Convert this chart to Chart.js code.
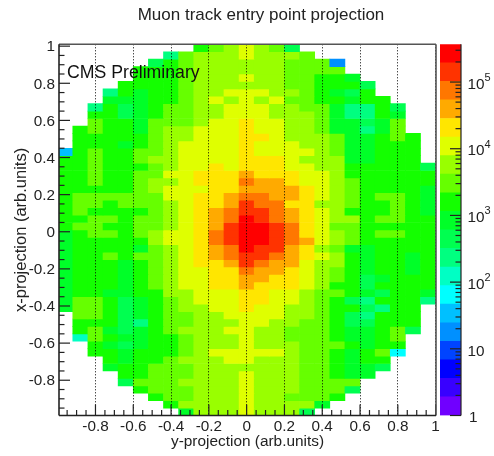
<!DOCTYPE html>
<html>
<head>
<meta charset="utf-8">
<title>Muon track entry point projection</title>
<script src="https://cdn.jsdelivr.net/npm/chart.js@4"></script>
<style>
html, body { margin: 0; padding: 0; background: #fff; }
#wrap { position: relative; width: 494px; height: 456px; }
canvas { position: absolute; top: 0; }
#hist { left: 0; }
#zbar { left: 436px; }
</style>
</head>
<body>
<div id="wrap">
	<canvas id="hist" width="494" height="456"></canvas>
	<canvas id="zbar" width="58" height="456"></canvas>
</div>
<script>
var _ = null;

// bin centres along y-projection
var xBins = [-0.96, -0.88, -0.8, -0.72, -0.64, -0.56, -0.48, -0.4, -0.32, -0.24, -0.16, -0.08, 0, 0.08, 0.16, 0.24, 0.32, 0.4, 0.48, 0.56, 0.64, 0.72, 0.8, 0.88, 0.96];

// top edge of each row along x-projection, row height is yBinHeight
var yBinTops = [1.01, 0.97, 0.93, 0.89, 0.85, 0.81, 0.77, 0.73, 0.69, 0.65, 0.61, 0.57, 0.53, 0.49, 0.45, 0.41, 0.37, 0.33, 0.29, 0.25, 0.21, 0.17, 0.13, 0.09, 0.05, 0.01, -0.03, -0.07, -0.11, -0.15, -0.19, -0.23, -0.27, -0.31, -0.35, -0.39, -0.43, -0.47, -0.51, -0.55, -0.59, -0.63, -0.67, -0.71, -0.75, -0.79, -0.83, -0.87, -0.91, -0.95];
var yBinHeight = 0.04;

// entries per cell, one line per row
var counts = [
	[_,_,_,_,_,_,_,_,_,1600,3000,5700,11000,5700,3000,444,_,_,_,_,_,_,_,_,_],
	[_,_,_,_,_,_,_,233,3000,5700,5700,5700,11000,5700,5700,5700,3000,_,_,_,_,_,_,_,_],
	[_,_,_,_,_,_,444,1600,3000,5700,5700,5700,5700,5700,5700,3000,3000,3000,18,_,_,_,_,_,_],
	[_,_,_,_,_,1600,1600,1600,3000,5700,5700,5700,5700,5700,5700,3000,3000,3000,3000,_,_,_,_,_,_],
	[_,_,_,_,_,1600,1600,1600,3000,5700,5700,5700,11000,5700,5700,3000,3000,1600,1600,840,_,_,_,_,_],
	[_,_,_,_,1600,1600,1600,1600,3000,5700,5700,5700,5700,5700,5700,3000,3000,1600,1600,1600,444,_,_,_,_],
	[_,_,_,233,1600,840,1600,1600,3000,5700,5700,11000,11000,11000,5700,5700,3000,1600,840,444,1600,_,_,_,_],
	[_,_,_,840,840,840,1600,1600,3000,5700,11000,5700,11000,5700,11000,3000,3000,1600,1600,840,1600,1600,_,_,_],
	[_,_,233,1600,444,840,1600,3000,3000,5700,5700,11000,11000,11000,5700,5700,3000,3000,840,233,233,1600,444,_,_],
	[_,_,1600,1600,444,840,1600,3000,3000,5700,5700,11000,11000,11000,5700,5700,5700,3000,840,233,233,1600,840,_,_],
	[_,_,3000,1600,1600,840,3000,3000,3000,5700,11000,11000,21000,11000,11000,5700,5700,3000,840,840,444,840,3000,_,_],
	[_,1600,3000,1600,1600,840,3000,5700,5700,11000,11000,11000,21000,11000,11000,5700,5700,3000,840,840,233,840,3000,_,_],
	[_,1600,1600,1600,1600,1600,3000,5700,5700,11000,11000,11000,21000,21000,11000,5700,5700,5700,3000,840,840,1600,3000,1600,_],
	[_,1600,1600,1600,840,1600,3000,5700,11000,11000,11000,11000,21000,11000,11000,11000,5700,5700,3000,840,840,1600,1600,1600,_],
	[34,1600,3000,1600,1600,3000,3000,5700,11000,11000,11000,11000,21000,11000,11000,11000,11000,5700,3000,840,840,1600,1600,1600,_],
	[1600,1600,3000,1600,1600,3000,5700,5700,11000,11000,11000,11000,21000,21000,21000,11000,5700,5700,5700,840,840,1600,1600,1600,_],
	[1600,1600,3000,1600,1600,1600,3000,5700,11000,11000,21000,11000,21000,21000,21000,11000,11000,5700,5700,1600,1600,1600,1600,1600,444],
	[1600,1600,3000,1600,1600,3000,3000,11000,11000,21000,21000,21000,40000,21000,21000,21000,11000,11000,5700,1600,1600,1600,1600,1600,1600],
	[1600,1600,3000,1600,1600,3000,5700,5700,11000,21000,21000,21000,75000,40000,40000,21000,11000,11000,5700,3000,1600,1600,1600,1600,1600],
	[1600,1600,1600,1600,1600,3000,5700,11000,11000,11000,21000,21000,40000,40000,40000,40000,21000,11000,5700,3000,1600,1600,1600,1600,840],
	[1600,3000,3000,3000,3000,3000,3000,11000,11000,21000,21000,40000,75000,75000,40000,40000,21000,11000,5700,3000,1600,3000,3000,1600,840],
	[1600,3000,3000,1600,3000,3000,3000,5700,11000,21000,21000,40000,140000,75000,75000,21000,21000,5700,5700,3000,1600,1600,3000,1600,840],
	[1600,3000,1600,1600,1600,1600,3000,5700,11000,21000,40000,75000,140000,140000,75000,40000,21000,11000,5700,1600,1600,1600,3000,1600,840],
	[1600,1600,3000,3000,1600,3000,3000,5700,11000,21000,40000,75000,270000,140000,75000,40000,21000,11000,5700,5700,1600,3000,3000,1600,1600],
	[1600,3000,3000,1600,1600,3000,3000,5700,11000,21000,40000,140000,270000,270000,140000,75000,21000,11000,3000,3000,1600,1600,1600,1600,1600],
	[840,1600,3000,3000,1600,3000,5700,11000,11000,21000,75000,140000,270000,270000,140000,75000,21000,11000,5700,3000,1600,3000,3000,1600,1600],
	[840,1600,1600,1600,1600,1600,5700,11000,11000,21000,75000,140000,270000,270000,140000,75000,40000,11000,5700,3000,1600,1600,1600,1600,1600],
	[840,1600,1600,1600,1600,840,3000,5700,11000,21000,40000,75000,270000,140000,140000,40000,21000,5700,3000,840,840,1600,1600,1600,1600],
	[840,1600,1600,3000,1600,3000,3000,5700,11000,21000,40000,75000,140000,140000,75000,40000,21000,11000,5700,1600,840,1600,1600,840,1600],
	[840,1600,1600,1600,840,1600,3000,5700,11000,21000,21000,40000,140000,75000,40000,40000,11000,5700,5700,1600,840,1600,1600,840,1600],
	[840,1600,1600,1600,840,1600,3000,5700,11000,11000,21000,21000,75000,40000,40000,21000,11000,5700,3000,1600,840,1600,1600,840,1600],
	[840,1600,1600,1600,840,1600,3000,5700,11000,11000,21000,21000,40000,40000,21000,21000,11000,5700,3000,1600,444,840,1600,1600,1600],
	[840,1600,1600,1600,840,1600,3000,5700,11000,11000,21000,21000,40000,21000,21000,21000,11000,5700,1600,1600,444,1600,1600,1600,1600],
	[840,1600,1600,840,840,1600,1600,5700,5700,11000,11000,11000,21000,21000,11000,11000,5700,3000,3000,1600,840,444,1600,1600,840],
	[840,3000,3000,1600,444,840,1600,3000,5700,11000,11000,11000,21000,21000,11000,11000,5700,3000,1600,444,233,1600,1600,1600,233],
	[840,3000,3000,1600,444,840,1600,3000,5700,5700,11000,11000,21000,11000,11000,5700,5700,3000,1600,1600,444,233,1600,1600,_],
	[_,3000,3000,1600,444,840,1600,3000,3000,5700,5700,11000,11000,11000,11000,5700,5700,3000,1600,444,233,1600,1600,1600,_],
	[_,1600,1600,1600,444,233,1600,3000,3000,5700,5700,5700,11000,11000,5700,5700,3000,3000,1600,444,444,1600,1600,1600,_],
	[_,1600,3000,840,444,840,1600,3000,5700,5700,5700,11000,11000,5700,5700,3000,3000,3000,1600,840,840,1600,3000,444,_],
	[_,122,3000,1600,840,840,1600,1600,3000,5700,5700,5700,11000,5700,5700,3000,3000,3000,1600,840,840,1600,3000,_,_],
	[_,_,1600,840,444,840,1600,1600,3000,5700,5700,5700,11000,5700,5700,5700,3000,3000,3000,1600,840,1600,1600,_,_],
	[_,_,1600,1600,840,1600,1600,1600,3000,5700,11000,11000,11000,11000,11000,5700,3000,3000,1600,840,1600,3000,65,_,_],
	[_,_,_,1600,840,1600,1600,3000,5700,5700,5700,11000,11000,5700,5700,5700,3000,3000,1600,840,1600,1600,_,_,_],
	[_,_,_,840,1600,1600,3000,3000,3000,5700,5700,5700,5700,5700,5700,5700,3000,3000,1600,840,840,444,_,_,_],
	[_,_,_,_,1600,1600,3000,3000,3000,5700,5700,5700,11000,5700,5700,5700,3000,3000,1600,840,840,_,_,_,_],
	[_,_,_,_,444,3000,3000,3000,5700,5700,5700,5700,11000,5700,5700,5700,3000,3000,3000,3000,_,_,_,_,_],
	[_,_,_,_,_,1600,3000,3000,3000,5700,5700,5700,11000,5700,5700,5700,3000,3000,3000,444,_,_,_,_,_],
	[_,_,_,_,_,_,1600,3000,3000,5700,5700,5700,11000,5700,5700,3000,3000,3000,1600,_,_,_,_,_,_],
	[_,_,_,_,_,_,_,1600,5700,5700,5700,5700,11000,5700,5700,5700,5700,840,_,_,_,_,_,_,_],
	[_,_,_,_,_,_,_,_,840,5700,5700,5700,11000,5700,5700,5700,444,_,_,_,_,_,_,_,_]
];

// colour scale: 20 bands, bottom to top
var zEdges = [1, 1.9, 3.6, 6.83, 13, 24.6, 46.7, 88.7, 168, 320, 607, 1152, 2188, 4150, 7880, 14960, 28400, 53900, 102300, 194000, 368000];
var zColors = ['#7000ff', '#3800ff', '#0000ff', '#0044ff', '#0090ff', '#00c0ff', '#00ffff', '#00ffc4', '#00ff80', '#00ff50',
	'#00ff28', '#14ff00', '#66ff00', '#99ff00', '#dfff00', '#ffe600', '#ffaa00', '#ff7700', '#ff3300', '#ff0000'];

var xTicks = [-0.8, -0.6, -0.4, -0.2, 0, 0.2, 0.4, 0.6, 0.8, 1];
var yTicks = [-0.8, -0.6, -0.4, -0.2, 0, 0.2, 0.4, 0.6, 0.8, 1];
var minorTicks = [-0.95, -0.9, -0.85, -0.75, -0.7, -0.65, -0.55, -0.5, -0.45, -0.35, -0.3, -0.25, -0.15, -0.1, -0.05,
	0.05, 0.1, 0.15, 0.25, 0.3, 0.35, 0.45, 0.5, 0.55, 0.65, 0.7, 0.75, 0.85, 0.9, 0.95];
var zTicks = [1, 10, 100, 1000, 10000, 100000];
var zLabels = ['1', '10', '10', '10', '10', '10'];
var zExponents = ['', '', '2', '3', '4', '5'];
var zMinorTicks = [2, 3, 4, 5, 6, 7, 8, 9, 20, 30, 40, 50, 60, 70, 80, 90, 200, 300, 400, 500, 600, 700, 800, 900,
	2000, 3000, 4000, 5000, 6000, 7000, 8000, 9000, 20000, 30000, 40000, 50000, 60000, 70000, 80000, 90000, 200000, 300000];

var FONT = '"Liberation Sans", Arial, sans-serif';
var INK = '#222';

function bandColor(value) {
	for (var i = 0; i < zColors.length; i++) {
		if (value < zEdges[i + 1]) return zColors[i];
	}
	return zColors[zColors.length - 1];
}

function tickMark(ctx, x1, y1, x2, y2) {
	ctx.beginPath();
	ctx.moveTo(x1, y1);
	ctx.lineTo(x2, y2);
	ctx.stroke();
}

// ticks point inward, the library only draws them outward
var histFrame = {
	id: 'histFrame',
	afterDraw: function(chart) {
		var ctx = chart.ctx, a = chart.chartArea;
		var sx = chart.scales.x, sy = chart.scales.y;
		ctx.save();
		ctx.strokeStyle = INK;
		ctx.lineWidth = 1.2;
		xTicks.forEach(function(v) { var p = sx.getPixelForValue(v); tickMark(ctx, p, a.bottom, p, a.bottom - 11); });
		yTicks.forEach(function(v) { var p = sy.getPixelForValue(v); tickMark(ctx, a.left, p, a.left + 11, p); });
		minorTicks.forEach(function(v) {
			var px = sx.getPixelForValue(v), py = sy.getPixelForValue(v);
			tickMark(ctx, px, a.bottom, px, a.bottom - 5.5);
			tickMark(ctx, a.left, py, a.left + 5.5, py);
		});
		// top and right of the frame are greyer
		ctx.lineWidth = 1.6;
		ctx.strokeStyle = '#555';
		tickMark(ctx, a.left, a.top, a.right, a.top);
		tickMark(ctx, a.right, a.top, a.right, a.bottom);
		ctx.strokeStyle = '#222';
		tickMark(ctx, a.left, a.top, a.left, a.bottom);
		tickMark(ctx, a.left, a.bottom, a.right, a.bottom);

		ctx.fillStyle = INK;
		ctx.font = '17px ' + FONT;
		ctx.textBaseline = 'alphabetic';
		ctx.textAlign = 'center';
		ctx.fillText('Muon track entry point projection', 261, 20);
		ctx.fillStyle = '#111';
		ctx.font = '17.7px ' + FONT;
		ctx.textBaseline = 'middle';
		ctx.textAlign = 'left';
		ctx.fillText('CMS Preliminary', 67, 73);
		ctx.restore();
	}
};

var zFrame = {
	id: 'zFrame',
	afterDraw: function(chart) {
		var ctx = chart.ctx, a = chart.chartArea, s = chart.scales.y;
		ctx.save();
		ctx.strokeStyle = INK;
		ctx.lineWidth = 1.2;
		tickMark(ctx, a.right, a.top, a.right, a.bottom);
		zTicks.forEach(function(v) { var p = s.getPixelForValue(v); tickMark(ctx, a.right, p, a.right - 11, p); });
		zMinorTicks.forEach(function(v) { var p = s.getPixelForValue(v); tickMark(ctx, a.right, p, a.right - 5.5, p); });

		// 10 with a raised exponent, a tick callback can only give one string
		ctx.fillStyle = INK;
		ctx.textBaseline = 'middle';
		zTicks.forEach(function(v, i) {
			var p = s.getPixelForValue(v) + 2.5;
			ctx.font = '15.3px ' + FONT;
			ctx.fillText(zLabels[i], a.right + (i === 0 ? 8 : 6.5), p);
			if (zExponents[i]) {
				ctx.font = '11px ' + FONT;
				ctx.fillText(zExponents[i], a.right + 23.5, p - 6.5);
			}
		});
		ctx.restore();
	}
};

function rowDatasets() {
	return counts.map(function(row, r) {
		var cells = [];
		row.forEach(function(value, c) {
			if (value !== null) cells.push({ x: xBins[c], y: [yBinTops[r] - yBinHeight, yBinTops[r]], count: value });
		});
		return {
			label: 'row ' + r,
			data: cells,
			backgroundColor: cells.map(function(cell) { return bandColor(cell.count); })
		};
	});
}

new Chart(document.getElementById('hist'), {
	type: 'bar',
	data: { datasets: rowDatasets() },
	options: {
		responsive: false,
		animation: false,
		grouped: false,
		barPercentage: 1,
		categoryPercentage: 1,
		layout: { padding: { left: 0, right: 58, top: 44.3, bottom: 0 } },
		plugins: {
			legend: { display: false },
			tooltip: { enabled: false }
		},
		scales: {
			x: {
				type: 'linear',
				min: -0.993,
				max: 1.002,
				offset: false,
				grid: { offset: false, color: '#000', lineWidth: 1, drawTicks: false, z: 1 },
				border: { display: false, dash: [1, 2] },
				afterBuildTicks: function(scale) { scale.ticks = xTicks.map(function(v) { return { value: v }; }); },
				afterFit: function(scale) { scale.height = 40.5; },
				ticks: {
					color: INK,
					padding: 2,
					maxRotation: 0,
					autoSkip: false,
					font: { family: FONT, size: 15.3 },
					callback: function(v) { return String(v); }
				},
				title: {
					display: true,
					text: 'y-projection (arb.units)',
					color: INK,
					font: { family: FONT, size: 15.4 },
					padding: { top: 5.5, bottom: 5.5 }
				}
			},
			y: {
				type: 'linear',
				min: -0.99,
				max: 1.01,
				grid: { display: false, drawTicks: false },
				border: { display: false },
				afterBuildTicks: function(scale) { scale.ticks = yTicks.map(function(v) { return { value: v }; }); },
				afterFit: function(scale) { scale.width = 59; },
				ticks: {
					color: INK,
					padding: 4,
					labelOffset: 1,
					autoSkip: false,
					font: { family: FONT, size: 15.3 },
					callback: function(v) { return String(v); }
				},
				title: {
					display: true,
					text: 'x-projection (arb.units)',
					color: INK,
					font: { family: FONT, size: 16.5 },
					padding: { top: 12, bottom: 12 }
				}
			}
		}
	},
	plugins: [histFrame]
});

new Chart(document.getElementById('zbar'), {
	type: 'bar',
	data: {
		labels: ['z'],
		datasets: zColors.map(function(color, i) {
			return { data: [[zEdges[i], zEdges[i + 1]]], backgroundColor: color };
		})
	},
	options: {
		responsive: false,
		animation: false,
		grouped: false,
		barPercentage: 1,
		categoryPercentage: 1,
		layout: { padding: { left: 4, right: 33, top: 44.3, bottom: 40.5 } },
		plugins: { legend: { display: false }, tooltip: { enabled: false } },
		scales: {
			x: { display: false },
			y: {
				type: 'logarithmic',
				min: 1,
				max: 368000,
				display: false
			}
		}
	},
	plugins: [zFrame]
});
</script>
</body>
</html>
